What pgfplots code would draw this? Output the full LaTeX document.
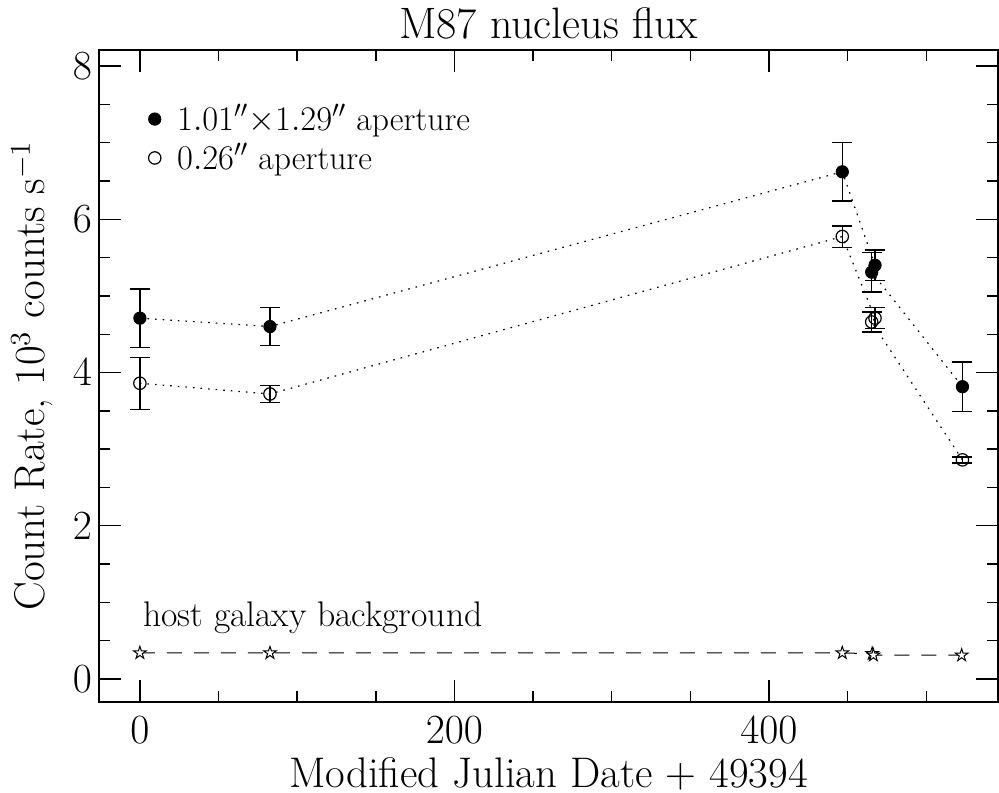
\documentclass[border=0pt]{standalone}
\usepackage{pgfplots}
\pgfplotsset{compat=1.18}
\pgfdeclareplotmark{ostar}{%
  \pgfpathmoveto{\pgfqpoint{0pt}{\pgfplotmarksize}}%
  \pgfpathlineto{\pgfqpoint{-0.2245\pgfplotmarksize}{0.309\pgfplotmarksize}}%
  \pgfpathlineto{\pgfqpoint{-0.951\pgfplotmarksize}{0.309\pgfplotmarksize}}%
  \pgfpathlineto{\pgfqpoint{-0.3633\pgfplotmarksize}{-0.118\pgfplotmarksize}}%
  \pgfpathlineto{\pgfqpoint{-0.588\pgfplotmarksize}{-0.809\pgfplotmarksize}}%
  \pgfpathlineto{\pgfqpoint{0pt}{-0.382\pgfplotmarksize}}%
  \pgfpathlineto{\pgfqpoint{0.588\pgfplotmarksize}{-0.809\pgfplotmarksize}}%
  \pgfpathlineto{\pgfqpoint{0.3633\pgfplotmarksize}{-0.118\pgfplotmarksize}}%
  \pgfpathlineto{\pgfqpoint{0.951\pgfplotmarksize}{0.309\pgfplotmarksize}}%
  \pgfpathlineto{\pgfqpoint{0.2245\pgfplotmarksize}{0.309\pgfplotmarksize}}%
  \pgfpathclose
  \pgfusepathqfillstroke
}
\begin{document}
\begin{tikzpicture}
\begin{axis}[
  name=ax,
  scale only axis,
  width=449.5pt, height=326pt,
  xmin=-26, xmax=545.6,
  ymin=-0.30, ymax=8.21,
  xtick={0,200,400}, minor xtick={50,100,150,250,300,350,450,500},
  ytick={0,2,4,6,8}, minor ytick={0.5,1,1.5,2.5,3,3.5,4.5,5,5.5,6.5,7,7.5},
  tick align=inside,
  major tick length=11pt, minor tick length=5.5pt,
  axis line style={line width=1pt},
  every tick/.style={black, line width=0.7pt},
  ticklabel style={font=\fontsize{20}{24}\selectfont},
  xticklabel style={yshift=-4pt},
  xlabel style={font=\fontsize{21.4}{25}\selectfont},
  ylabel style={font=\fontsize{21.5}{25}\selectfont, yshift=3pt},
  title style={font=\fontsize{22}{26}\selectfont, yshift=-4pt},
  title={M87 nucleus flux},
  xlabel={Modified Julian Date + 49394},
  ylabel={Count Rate, 10$^3$ counts s$^{-1}$},
  legend style={at={(rel axis cs:0.05,0.926)}, anchor=north west, draw=none, fill=none,
    font=\fontsize{16.8}{19}\selectfont, row sep=1pt, inner sep=1pt},
  legend cell align=left,
  legend image code/.code={\draw plot coordinates {(0pt,0pt)}; \path (-4pt,0pt) (9pt,0pt);},
]
% connecting lines
\addplot[black, line width=0.6pt, dash pattern=on 0.8pt off 3pt, forget plot] coordinates {
 (0,4.71) (82.7,4.60) (446.6,6.62) (467.4,5.40) (465.3,5.31) (523,3.815)};
\addplot[black, line width=0.6pt, dash pattern=on 0.8pt off 3pt, forget plot] coordinates {
 (0,3.86) (82.7,3.72) (446.6,5.775) (467.4,4.71) (465.3,4.66) (523,2.86)};
\addplot[black, line width=0.5pt, dash pattern=on 7.5pt off 6pt, forget plot] coordinates {
 (0,0.34) (82.7,0.34) (446.6,0.34) (465.6,0.33) (465.6,0.31) (522.5,0.31)};
% filled circles
\addplot[only marks, mark=*, mark size=3.1pt, black,
  error bars/.cd, y dir=both, y explicit,
  error bar style={line width=0.7pt},
  error mark options={rotate=90, mark size=5pt, line width=0.7pt}]
 coordinates {
 (0,4.71) +- (0,0.38)
 (82.7,4.60) +- (0,0.25)
 (446.6,6.62) +- (0,0.38)
 (467.4,5.40) +- (0,0.20)
 (465.3,5.31) +- (0,0.26)
 (523,3.815) +- (0,0.325)
};
\addlegendentry{$1.01''{\times}1.29''$ aperture}
% open circles
\addplot[only marks, mark=o, mark size=3.1pt, black, mark options={fill=white, line width=0.6pt},
  error bars/.cd, y dir=both, y explicit,
  error bar style={line width=0.7pt},
  error mark options={rotate=90, mark size=5pt, line width=0.7pt}]
 coordinates {
 (0,3.86) +- (0,0.34)
 (82.7,3.72) +- (0,0.11)
 (446.6,5.775) +- (0,0.14)
 (467.4,4.71) +- (0,0.135)
 (465.3,4.66) +- (0,0.13)
 (523,2.86) +- (0,0.04)
};
\addlegendentry{$0.26''$ aperture}
% stars
\addplot[only marks, mark=ostar, mark size=3.3pt, black, mark options={fill=white, line width=0.5pt}, forget plot]
 coordinates {(0,0.34) (82.7,0.34) (446.6,0.34) (465.6,0.33) (466.4,0.31) (522.5,0.31)};
\node[anchor=base west, font=\fontsize{17.8}{21}\selectfont, inner sep=0pt] at (axis cs:2,0.68) {host galaxy background};
\end{axis}
\pgfresetboundingbox
\path[use as bounding box] ([shift={(-49.5pt,-45.5pt)}]ax.south west) rectangle ([shift={(0.5pt,25pt)}]ax.north east);
\end{tikzpicture}
\end{document}
